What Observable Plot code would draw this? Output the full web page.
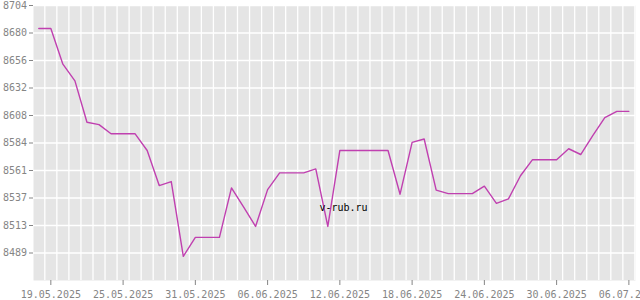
<!DOCTYPE html>
<html>
<head>
<meta charset="utf-8">
<script src="https://cdn.jsdelivr.net/npm/d3@7"></script>
<script src="https://cdn.jsdelivr.net/npm/@observablehq/plot@0.6"></script>
<style>
  html, body { margin: 0; padding: 0; background: #fff; overflow: hidden; }
  #chart svg { overflow: hidden; }
</style>
</head>
<body>
<div id="chart"></div>
<script>
// Daily dates (UTC) and values
const dates = [
  "2025-05-18","2025-05-19","2025-05-20","2025-05-21","2025-05-22","2025-05-23","2025-05-24",
  "2025-05-25","2025-05-26","2025-05-27","2025-05-28","2025-05-29","2025-05-30","2025-05-31",
  "2025-06-01","2025-06-02","2025-06-03","2025-06-04","2025-06-05","2025-06-06","2025-06-07",
  "2025-06-08","2025-06-09","2025-06-10","2025-06-11","2025-06-12","2025-06-13","2025-06-14",
  "2025-06-15","2025-06-16","2025-06-17","2025-06-18","2025-06-19","2025-06-20","2025-06-21",
  "2025-06-22","2025-06-23","2025-06-24","2025-06-25","2025-06-26","2025-06-27","2025-06-28",
  "2025-06-29","2025-06-30","2025-07-01","2025-07-02","2025-07-03","2025-07-04","2025-07-05",
  "2025-07-06"
];
const values = [
  8684, 8684, 8653, 8638.5, 8602.5, 8600.5, 8592.5,
  8592.5, 8592.5, 8578, 8547.5, 8551, 8486, 8502.5,
  8502.5, 8502.5, 8545.5, 8529, 8512, 8544, 8558.5,
  8558.5, 8558.5, 8562, 8512, 8578, 8578, 8578,
  8578, 8578, 8540, 8585, 8588, 8543.5, 8540.5,
  8540.5, 8540.5, 8547, 8532, 8536, 8556, 8570,
  8570, 8570, 8579.5, 8574.5, 8591, 8606.5, 8612,
  8612
];
// Axis ticks
const xTickDates = ["2025-05-19","2025-05-25","2025-05-31","2025-06-06","2025-06-12","2025-06-18","2025-06-24","2025-06-30","2025-07-06"];
const yTickValues = [8488.9, 8512.8, 8536.7, 8560.6, 8584.5, 8608.4, 8632.3, 8656.2, 8680.1, 8704.0];
const yTickLabels = ["8489","8513","8537","8561","8584","8608","8632","8656","8680","8704"];
const yDomain = [8465.0, 8704.0];
const watermark = "v-rub.ru";

const DAY = 864e5;
const parse = s => new Date(s + "T00:00:00Z");
const data = dates.map((d, i) => ({date: parse(d), value: values[i]}));
const gridDates = dates.map(d => new Date(parse(d).getTime() + DAY / 2));
const xTicks = xTickDates.map(parse);
const labelMap = new Map(yTickValues.map((v, i) => [v, yTickLabels[i]]));
const xDomain = [new Date(parse(dates[0]).getTime() - 0.44 * DAY),
                 new Date(parse(dates[dates.length - 1]).getTime() + 0.55 * DAY)];

const fmt = d3.utcFormat("%d.%m.%Y");
const gray = "#858585";

const chart = Plot.plot({
  width: 640,
  height: 300,
  marginLeft: 33,
  marginRight: 5,
  marginTop: 5,
  marginBottom: 20,
  style: {fontFamily: "'DejaVu Sans Mono', monospace", fontSize: "10px", background: "#fff"},
  x: {type: "utc", domain: xDomain},
  y: {domain: yDomain},
  marks: [
    Plot.frame({fill: "#e5e5e5", stroke: null}),
    Plot.ruleX(gridDates, {stroke: "#fff", strokeWidth: 1.3}),
    Plot.ruleY(yTickValues, {stroke: "#fff", strokeWidth: 1.3}),
    Plot.axisX(xTicks, {tickFormat: fmt, tickSize: 5, tickPadding: 5, stroke: gray, fill: gray, label: null}),
    Plot.axisY(yTickValues, {tickFormat: d => labelMap.get(d), tickSize: 4, tickPadding: 2.5, stroke: gray, fill: gray, label: null}),
    Plot.line(data, {x: "date", y: "value", stroke: "#c040b0", strokeWidth: 1.4}),
    Plot.text([watermark], {frameAnchor: "middle", dx: 9, dy: 65, fill: "#000", fontSize: 10})
  ]
});
document.getElementById("chart").appendChild(chart);
</script>
</body>
</html>
